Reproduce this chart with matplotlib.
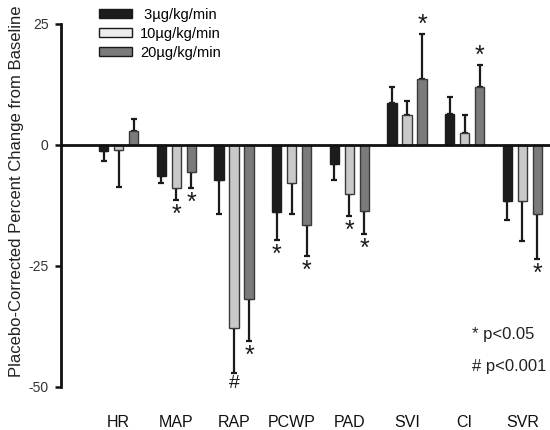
import matplotlib
matplotlib.use("Agg")
import matplotlib.pyplot as plt
import numpy as np
from matplotlib.patches import Patch

plt.rcParams['font.family'] = ['Liberation Sans', 'DejaVu Sans']

categories = ['HR', 'MAP', 'RAP', 'PCWP', 'PAD', 'SVI', 'CI', 'SVR']
series_labels = [' 3µg/kg/min', '10µg/kg/min', '20µg/kg/min']

dose3 = [-1.4, -6.4, -7.4, -14.0, -4.0, 8.5, 6.4, -11.6]
dose3_err = [1.9, 1.5, 6.9, 5.6, 3.4, 3.5, 3.4, 4.0]
dose10 = [-1.2, -9.0, -37.8, -7.9, -10.2, 6.2, 2.4, -11.7]
dose10_err = [7.6, 2.4, 9.4, 6.4, 4.5, 2.9, 3.8, 8.2]
dose20 = [2.8, -5.7, -31.9, -16.7, -13.7, 13.6, 11.9, -14.3]
dose20_err = [2.4, 3.3, 8.7, 6.3, 4.8, 9.2, 4.5, 9.3]

sig3 = ['', '', '', '*', '', '', '', '']
sig10 = ['', '*', '#', '', '*', '', '', '']
sig20 = ['', '*', '*', '*', '*', '*', '*', '*']

yticks = [25, 0, -25, -50]
legend_notes = ['* p<0.05', '# p<0.001']

fig = plt.figure(figsize=(5.5, 4.3), dpi=100)
ax = fig.add_axes([0.111, 0.1007, 0.889, 0.8444])

colors = ['#1c1c1c', '#c9c9c9', '#7b7b7b']
legend_colors = ['#1c1c1c', '#ececec', '#7b7b7b']
edges = ['#1c1c1c', '#3a3a3a', '#3a3a3a']
x = np.arange(len(categories))
width = 0.16
offsets = [-0.26, 0.0, 0.26]

vals = [dose3, dose10, dose20]
errs = [dose3_err, dose10_err, dose20_err]
sigs = [sig3, sig10, sig20]

for v, e, s, off, c, ec in zip(vals, errs, sigs, offsets, colors, edges):
    v = np.array(v)
    e = np.array(e)
    xs = x + off
    ax.bar(xs, v, width, color=c, edgecolor=ec, linewidth=1.0, zorder=2)
    lower = np.where(v < 0, e, 0)
    upper = np.where(v >= 0, e, 0)
    ax.errorbar(xs, v, yerr=[lower, upper], fmt='none', ecolor='#1a1a1a',
                elinewidth=1.6, capsize=2.2, capthick=1.6, zorder=1)
    for xi, vi, ei, si in zip(xs, v, e, s):
        if not si:
            continue
        fs = 18 if si == '*' else 14
        if vi < 0:
            dy = -2.2 if si == '*' else -1.2
            ax.annotate(si, (xi, vi - ei), xytext=(0, dy), textcoords='offset points',
                        ha='center', va='top', fontsize=fs, color='#1a1a1a',
                        annotation_clip=False)
        else:
            ax.annotate(si, (xi, vi + ei), xytext=(0, 1.8), textcoords='offset points',
                        ha='center', va='baseline', fontsize=fs, color='#1a1a1a',
                        annotation_clip=False)

ax.axhline(0, color='#111111', linewidth=2.0, zorder=3)
ax.set_xlim(-1.0, 7.48)
ax.set_ylim(-50, 25)
ax.set_yticks(yticks)
ax.set_yticklabels([str(t) for t in yticks], fontsize=10, color='#333333')
ax.set_xticks(x)
ax.set_xticklabels(categories, fontsize=11.5, color='#111111')
ax.tick_params(axis='x', length=0, pad=20.5)
ax.tick_params(axis='y', length=4, width=1.8, pad=5, color='#111111')
for sp in ['top', 'right', 'bottom']:
    ax.spines[sp].set_visible(False)
ax.spines['left'].set_linewidth(2.0)
ax.spines['left'].set_color('#111111')

fig.text(17 / 550, 1 - 191.5 / 430, 'Placebo-Corrected Percent Change from Baseline',
         rotation=90, ha='center', va='center', fontsize=12, color='#222222')

handles = [Patch(facecolor=c, edgecolor='#1a1a1a', linewidth=1.0) for c in legend_colors]
leg = fig.legend(handles, series_labels, loc='upper left',
                 bbox_to_anchor=(99 / 550, 1 - 7.5 / 430),
                 frameon=False, fontsize=10.5, handlelength=2.26, handleheight=0.55,
                 labelspacing=0.36, handletextpad=0.55, borderaxespad=0, borderpad=0)

fig.text(472 / 550, 1 - 334 / 430, legend_notes[0], fontsize=12, ha='left', va='center', color='#222222')
fig.text(472 / 550, 1 - 366 / 430, legend_notes[1], fontsize=12, ha='left', va='center', color='#222222')

fig.savefig('out.png', dpi=100)
